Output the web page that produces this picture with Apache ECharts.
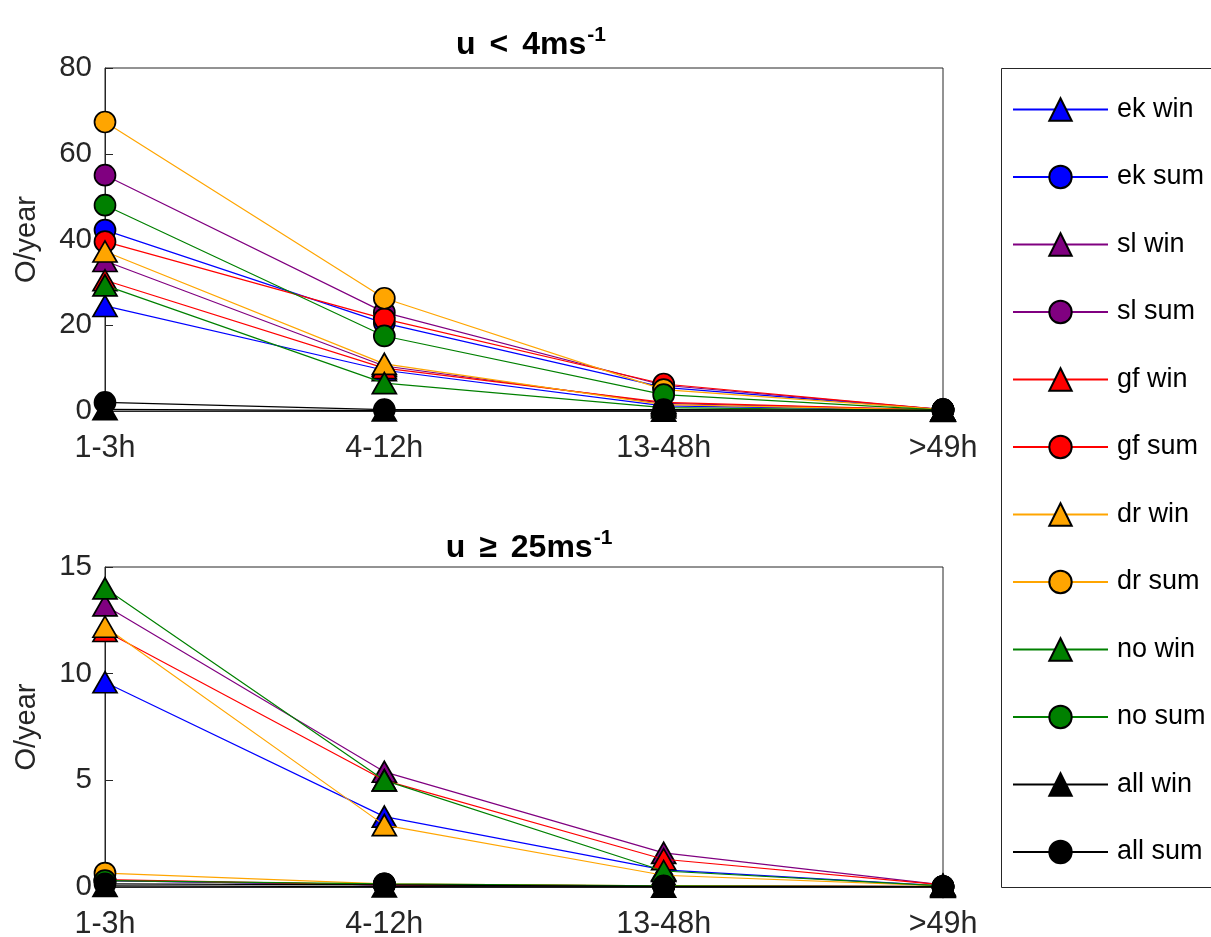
<!DOCTYPE html>
<html><head><meta charset="utf-8">
<script src="https://cdn.jsdelivr.net/npm/echarts@6/dist/echarts.min.js"></script>
<style>html,body{margin:0;padding:0;background:#fff}#c{width:1211px;height:937px}</style>
</head><body><div id="c"></div>
<script>
const categories = ['1-3h', '4-12h', '13-48h', '>49h'];
const seriesNames = ['ek win','ek sum','sl win','sl sum','gf win','gf sum','dr win','dr sum','no win','no sum','all win','all sum'];
const seriesColors = ['#0000FF','#0000FF','#800080','#800080','#FF0000','#FF0000','#FFA500','#FFA500','#008000','#008000','#000000','#000000'];
// top panel: u < 4 m/s
const topEkWin = [24.5, 9.5, 1.2, 0.2];
const topEkSum = [42.2, 20.5, 5.5, 0.3];
const topSlWin = [35.0, 10.5, 1.8, 0.2];
const topSlSum = [55.0, 23.0, 6.0, 0.3];
const topGfWin = [30.5, 10.0, 2.0, 0.2];
const topGfSum = [39.5, 21.5, 6.3, 0.3];
const topDrWin = [37.2, 11.0, 1.5, 0.2];
const topDrSum = [67.4, 26.3, 5.0, 0.3];
const topNoWin = [29.3, 6.5, 0.8, 0.1];
const topNoSum = [48.0, 17.5, 3.8, 0.2];
const topAllWin = [0.4, 0.1, 0.05, 0.0];
const topAllSum = [2.0, 0.3, 0.3, 0.2];
// bottom panel: u >= 25 m/s
const botEkWin = [9.6, 3.3, 0.8, 0.05];
const botEkSum = [0.3, 0.1, 0.05, 0.02];
const botSlWin = [13.2, 5.4, 1.6, 0.1];
const botSlSum = [0.3, 0.1, 0.05, 0.02];
const botGfWin = [12.0, 5.0, 1.3, 0.1];
const botGfSum = [0.35, 0.1, 0.05, 0.02];
const botDrWin = [12.2, 2.9, 0.55, 0.05];
const botDrSum = [0.65, 0.15, 0.05, 0.02];
const botNoWin = [14.0, 5.0, 0.75, 0.05];
const botNoSum = [0.3, 0.15, 0.05, 0.02];
const botAllWin = [0.05, 0.02, 0.01, 0.0];
const botAllSum = [0.15, 0.1, 0.03, 0.01];
const topTicks = {min: 0, max: 80, interval: 20};
const botTicks = {min: 0, max: 15, interval: 5};

const topData = [topEkWin, topEkSum, topSlWin, topSlSum, topGfWin, topGfSum, topDrWin, topDrSum, topNoWin, topNoSum, topAllWin, topAllSum];
const botData = [botEkWin, botEkSum, botSlWin, botSlSum, botGfWin, botGfSum, botDrWin, botDrSum, botNoWin, botNoSum, botAllWin, botAllSum];

const FONT = 'Liberation Sans, Arial, Helvetica, sans-serif';
const AX = '#262626';

function mkSeries(data, idx) {
  return data.map((d, i) => {
    const tri = seriesNames[i].endsWith('win');
    return {
      name: seriesNames[i], type: 'line', xAxisIndex: idx, yAxisIndex: idx,
      data: d,
      symbol: tri ? 'triangle' : 'circle',
      symbolSize: tri ? [24, 21] : 21,
      showAllSymbol: true,
      lineStyle: {color: seriesColors[i], width: 1.2},
      itemStyle: {color: seriesColors[i], borderColor: '#000', borderWidth: 1.7},
      emphasis: {disabled: true},
      animation: false,
      z: 2 + i
    };
  });
}

function xAx(idx) {
  return {
    type: 'category', gridIndex: idx, data: categories, boundaryGap: false,
    axisLine: {lineStyle: {color: AX, width: 1}},
    axisTick: {inside: true, length: 8, lineStyle: {color: AX}},
    axisLabel: {color: AX, fontSize: 30.5, fontFamily: FONT, margin: 22},
    splitLine: {show: false}
  };
}
function yAx(idx, t) {
  return {
    type: 'value', gridIndex: idx, min: t.min, max: t.max, interval: t.interval,
    name: 'O/year', nameLocation: 'middle', nameGap: 64,
    nameTextStyle: {color: AX, fontSize: 29, fontFamily: FONT},
    axisLine: {show: true, lineStyle: {color: AX, width: 1}},
    axisTick: {show: true, inside: true, length: 8, lineStyle: {color: AX}},
    axisLabel: {color: AX, fontSize: 29.5, fontFamily: FONT, margin: 13},
    splitLine: {show: false}
  };
}

const chart = echarts.init(document.getElementById('c'), null, {renderer: 'canvas'});
const titleRich = {
  b: {fontSize: 32, fontWeight: 'bold', fontFamily: FONT, color: '#000'},
  r: {fontSize: 32, fontWeight: 'bold', fontFamily: FONT, color: '#000', padding: [0, 14, 0, 14]},
  s: {fontSize: 21, fontWeight: 'bold', fontFamily: FONT, color: '#000', padding: [0, 0, 20, 1]}
};
chart.setOption({
  animation: false,
  backgroundColor: '#fff',
  title: [
    {text: '{b|u}{r|<}{b|4ms}{s|-1}', left: 526, top: 20, textAlign: 'center', textStyle: {rich: titleRich}},
    {text: '{b|u}{r|≥}{b|25ms}{s|-1}', left: 524, top: 523, textAlign: 'center', textStyle: {rich: titleRich}}
  ],
  grid: [
    {left: 105, top: 68, width: 838, height: 343, show: true, borderColor: AX, borderWidth: 1, containLabel: false, outerBoundsMode: 'none'},
    {left: 105, top: 567, width: 838, height: 320, show: true, borderColor: AX, borderWidth: 1, containLabel: false, outerBoundsMode: 'none'}
  ],
  xAxis: [xAx(0), xAx(1)],
  yAxis: [yAx(0, topTicks), yAx(1, botTicks)],
  legend: {
    data: seriesNames, orient: 'vertical', left: 1007, top: 91,
    itemWidth: 95, itemHeight: 28, itemGap: 40.5,
    textStyle: {color: '#000', fontSize: 27, fontFamily: FONT, padding: [0, 0, 0, 4]},
    selectedMode: false
  },
  graphic: [
    {type: 'rect', shape: {x: 1001.5, y: 68.5, width: 220, height: 819}, style: {fill: 'none', stroke: AX, lineWidth: 1}, z: 0}
  ],
  series: mkSeries(topData, 0).concat(mkSeries(botData, 1))
});
</script></body></html>
